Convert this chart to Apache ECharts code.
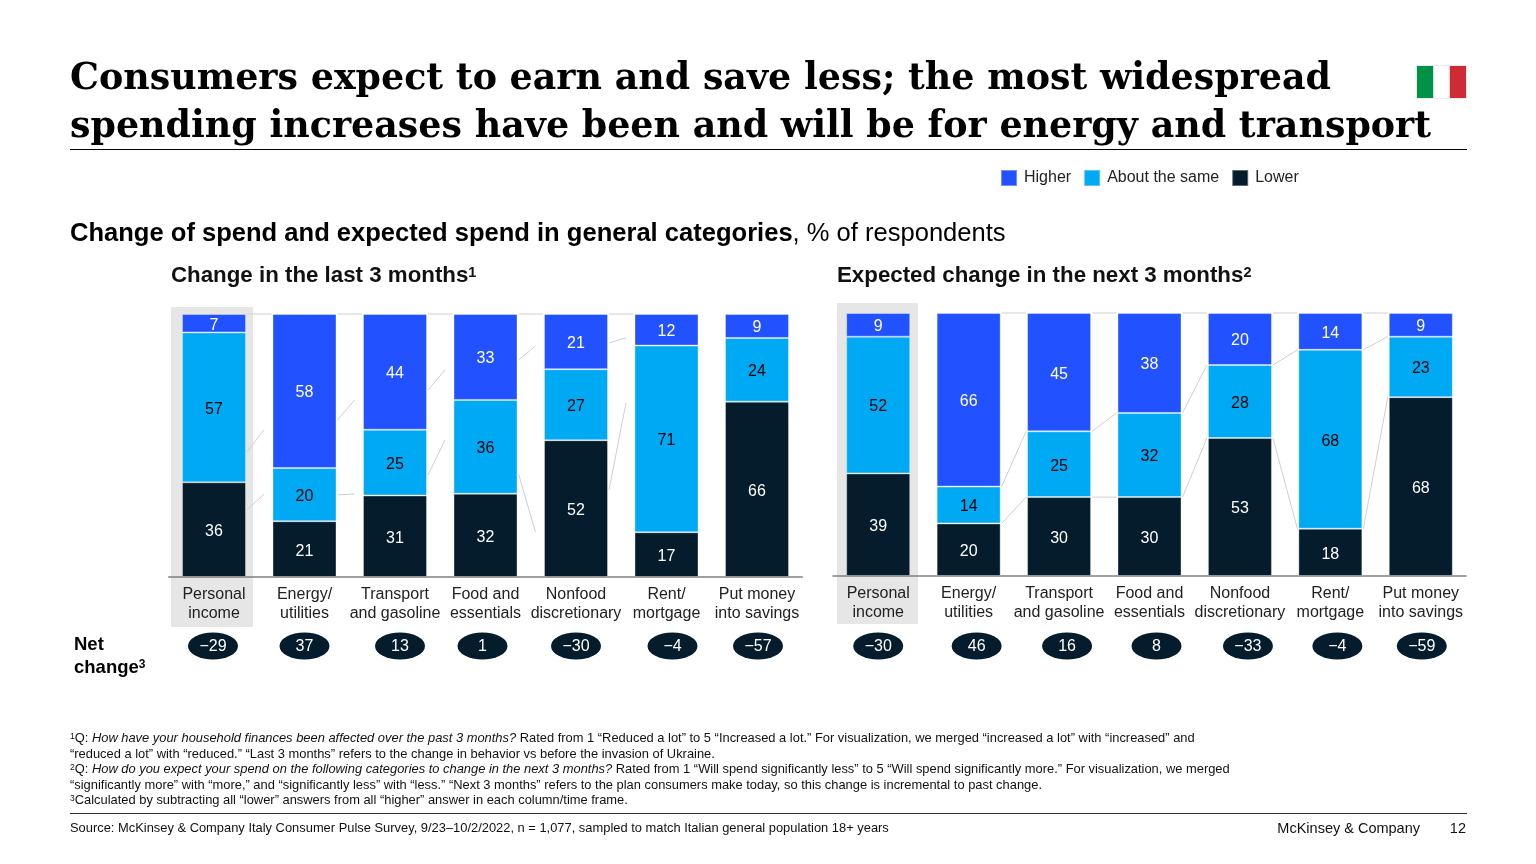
<!DOCTYPE html>
<html>
<head>
<meta charset="utf-8">
<title>Italy consumer pulse</title>
<script src="https://cdn.jsdelivr.net/npm/echarts@6/dist/echarts.min.js"></script>
<style>
  html, body { margin: 0; padding: 0; background: #fff; }
  #chart { width: 1536px; height: 864px; }
</style>
</head>
<body>
<div id="chart"></div>
<script>
const categories = ["Personal\nincome", "Energy/\nutilities", "Transport\nand gasoline", "Food and\nessentials", "Nonfood\ndiscretionary", "Rent/\nmortgage", "Put money\ninto savings"];

const lastHigher = [7, 58, 44, 33, 21, 12, 9];
const lastSame = [57, 20, 25, 36, 27, 71, 24];
const lastLower = [36, 21, 31, 32, 52, 17, 66];
const lastNet = [-29, 37, 13, 1, -30, -4, -57];

const nextHigher = [9, 66, 45, 38, 20, 14, 9];
const nextSame = [52, 14, 25, 32, 28, 68, 23];
const nextLower = [39, 20, 30, 30, 53, 18, 68];
const nextNet = [-30, 46, 16, 8, -33, -4, -59];

// the faint connector stubs of the left panel, [gap, from %, to %]
const lastConnectors = [
  [0, 100, 100], [0, 47.5, 56], [0, 25.5, 31.5],
  [1, 100, 100], [1, 59.7, 67.3], [1, 31.2, 31.6],
  [2, 100, 100], [2, 71.1, 78.7], [2, 38.8, 52.1],
  [3, 100, 100], [3, 82.5, 87.8], [3, 39.2, 17.1],
  [4, 100, 100], [4, 89, 90.9], [4, 33.1, 66.2]
];

const footnotes = [
  "{s|1}Q: {i|How have your household finances been affected over the past 3 months?} Rated from 1 “Reduced a lot” to 5 “Increased a lot.” For visualization, we merged “increased a lot” with “increased” and",
  "“reduced a lot” with “reduced.” “Last 3 months” refers to the change in behavior vs before the invasion of Ukraine.",
  "{s|2}Q: {i|How do you expect your spend on the following categories to change in the next 3 months?} Rated from 1 “Will spend significantly less” to 5 “Will spend significantly more.” For visualization, we merged",
  "“significantly more” with “more,” and “significantly less” with “less.” “Next 3 months” refers to the plan consumers make today, so this change is incremental to past change.",
  "{s|3}Calculated by subtracting all “lower” answers from all “higher” answer in each column/time frame."
];

const BLUE = "#2251FF";
const CYAN = "#00A9F4";
const NAVY = "#051C2C";
const SANS = "Liberation Sans";
const BAR_W = 64;

// the bars all reach the top even when rounding sums to 99 or 101
function share(values, a, b, c) {
  return values.map((v, i) => (v / (a[i] + b[i] + c[i])) * 100);
}

function barSeries(name, values, color, labelColor, idx, a, b, c) {
  let shares = share(values, a, b, c);
  return {
    name: name,
    type: "bar",
    stack: "s" + idx,
    xAxisIndex: idx,
    yAxisIndex: idx,
    barWidth: BAR_W,
    clip: false,
    itemStyle: { color: color, borderColor: "rgba(255,255,255,0.35)", borderWidth: 1 },
    label: {
      show: true,
      position: "inside",
      offset: [0, 2],
      fontFamily: SANS,
      fontSize: 16,
      color: labelColor,
      formatter: (p) => values[p.dataIndex]
    },
    data: shares
  };
}

function connectorSeries(idx, rows, span) {
  return {
    type: "custom",
    xAxisIndex: idx,
    yAxisIndex: idx,
    silent: true,
    z: 1,
    encode: { x: 0, y: 1 },
    renderItem: function (params, api) {
      let gap = api.value(0);
      let a = api.coord([gap, api.value(1)]);
      let b = api.coord([gap, api.value(2)]);
      let next = api.coord([gap + 1, api.value(2)]);
      let x1 = a[0] + BAR_W / 2 + 1;
      let full = next[0] - BAR_W / 2 - 1;
      let x2 = api.value(1) === 100 ? full : Math.min(x1 + span, full);
      return {
        type: "line",
        shape: { x1: x1, y1: a[1], x2: x2, y2: b[1] },
        style: { stroke: "#cfcfcf", lineWidth: 1 }
      };
    },
    data: rows
  };
}

// right panel connectors run boundary to boundary, so they follow the data
function boundaryConnectors(hi, same, lo, gaps) {
  let rows = [];
  gaps.forEach((g) => {
    let low = share(lo, hi, same, lo);
    let mid = share(same, hi, same, lo);
    rows.push([g, 100, 100]);
    rows.push([g, low[g] + mid[g], low[g + 1] + mid[g + 1]]);
    rows.push([g, low[g], low[g + 1]]);
  });
  return rows;
}

function netSeries(idx, values, nudge) {
  return {
    type: "scatter",
    xAxisIndex: idx,
    yAxisIndex: idx,
    symbol: "circle",
    symbolSize: [50, 27],
    itemStyle: { color: NAVY, opacity: 1 },
    label: {
      show: true,
      position: "inside",
      offset: [0, 1],
      fontFamily: SANS,
      fontSize: 16,
      color: "#fff",
      formatter: (p) => String(values[p.dataIndex]).replace("-", "−")
    },
    data: values.map((v, i) => ({
      value: [i, 0],
      symbolOffset: [nudge[i], 0]
    }))
  };
}

function text(x, y, str, size, extra, scaleX) {
  return {
    type: "text",
    x: x,
    y: y,
    z: 5,
    silent: true,
    scaleX: scaleX || 1,
    style: Object.assign(
      { text: str, fontFamily: SANS, fontSize: size, fill: "#111", verticalAlign: "middle", align: "left" },
      extra || {}
    )
  };
}

function box(x, y, w, h, fill, z) {
  return { type: "rect", z: z, silent: true, shape: { x: x, y: y, width: w, height: h }, style: { fill: fill } };
}

function supStyle(size, weight, fill) {
  return { fontFamily: SANS, fontSize: size, fontWeight: weight, fill: fill, verticalAlign: "top" };
}

const titleStyle = { fontFamily: "DejaVu Serif", fontWeight: "bold", fill: "#000" };

const graphics = [
  box(171, 307, 82, 320, "#E6E6E6", -1),
  box(837, 303, 81, 321, "#E6E6E6", -1),
  text(70, 79, "Consumers expect to earn and save less; the most widespread", 38, titleStyle, 0.958),
  text(70, 127, "spending increases have been and will be for energy and transport", 38, titleStyle, 0.958),
  box(70, 149, 1397, 1, "#000", 1),
  box(1416.5, 65.5, 50, 33, "#d5d5d5", 1),
  box(1417, 66, 16.4, 32, "#009246", 2),
  box(1433.4, 66, 16.4, 32, "#ffffff", 2),
  box(1449.8, 66, 16.2, 32, "#CE2B37", 2),
  text(70, 234, "{b|Change of spend and expected spend in general categories}, % of respondents", 25.55, {
    fill: "#000",
    rich: { b: { fontFamily: SANS, fontSize: 25.55, fontWeight: "bold", fill: "#000" } }
  }),
  text(171, 276, "{t|Change in the last 3 months}{s|1}", 22.3, {
    rich: { t: { fontFamily: SANS, fontSize: 22.3, fontWeight: "bold", fill: "#111" }, s: supStyle(14.5, "bold", "#111") }
  }),
  text(837, 276, "{t|Expected change in the next 3 months}{s|2}", 22.3, {
    rich: { t: { fontFamily: SANS, fontSize: 22.3, fontWeight: "bold", fill: "#111" }, s: supStyle(14.5, "bold", "#111") }
  }),
  text(74, 645, "Net", 18.5, { fontWeight: "bold", fill: "#000" }),
  text(74, 668, "{t|change}{s|3}", 18.5, {
    rich: { t: { fontFamily: SANS, fontSize: 18.5, fontWeight: "bold", fill: "#000" }, s: supStyle(12, "bold", "#000") }
  }),
  box(70, 813, 1397, 1, "#333", 1),
  text(70, 828, "Source: McKinsey & Company Italy Consumer Pulse Survey, 9/23–10/2/2022, n = 1,077, sampled to match Italian general population 18+ years", 12.9, { fill: "#111" }),
  text(1420, 829, "McKinsey & Company", 14.5, { align: "right", fill: "#111" }),
  text(1466, 829, "12", 14.5, { align: "right", fill: "#111" })
];

const footY = [738.5, 754.5, 769.5, 785.5, 800.5];
footnotes.forEach((line, i) => {
  graphics.push(text(70, footY[i], line, 12.9, {
    fill: "#111",
    rich: {
      i: { fontFamily: SANS, fontSize: 12.9, fontStyle: "italic", fill: "#111" },
      s: supStyle(8.5, "normal", "#111")
    }
  }));
});

function catAxis(gridIndex, showLabels) {
  return {
    type: "category",
    gridIndex: gridIndex,
    data: categories,
    axisTick: { show: false },
    axisLine: { show: showLabels, lineStyle: { color: "#808080", width: 1.5 } },
    axisLabel: {
      show: showLabels,
      interval: 0,
      margin: 8,
      fontFamily: SANS,
      fontSize: 16,
      lineHeight: 19,
      color: "#222"
    }
  };
}

function valAxis(gridIndex, min, max) {
  return { type: "value", gridIndex: gridIndex, min: min, max: max, show: false, splitLine: { show: false } };
}

const option = {
  animation: false,
  textStyle: { fontFamily: SANS },
  legend: {
    left: 1000,
    top: 169,
    padding: 0,
    icon: "rect",
    itemWidth: 16,
    itemHeight: 16,
    itemGap: 12,
    textStyle: { fontFamily: SANS, fontSize: 16, color: "#222", padding: [0, 0, 0, 2] },
    data: ["Higher", "About the same", "Lower"]
  },
  grid: [
    { left: 168.75, top: 314, width: 633.5, height: 263 },
    { left: 833, top: 313, width: 633, height: 263 },
    { left: 168.75, top: 631, width: 633.5, height: 30 },
    { left: 833, top: 631, width: 633, height: 30 }
  ],
  xAxis: [catAxis(0, true), catAxis(1, true), catAxis(2, false), catAxis(3, false)],
  yAxis: [valAxis(0, 0, 100), valAxis(1, 0, 100), valAxis(2, -1, 1), valAxis(3, -1, 1)],
  graphic: graphics,
  series: [
    barSeries("Lower", lastLower, NAVY, "#fff", 0, lastHigher, lastSame, lastLower),
    barSeries("About the same", lastSame, CYAN, "#000", 0, lastHigher, lastSame, lastLower),
    barSeries("Higher", lastHigher, BLUE, "#fff", 0, lastHigher, lastSame, lastLower),
    barSeries("Lower", nextLower, NAVY, "#fff", 1, nextHigher, nextSame, nextLower),
    barSeries("About the same", nextSame, CYAN, "#000", 1, nextHigher, nextSame, nextLower),
    barSeries("Higher", nextHigher, BLUE, "#fff", 1, nextHigher, nextSame, nextLower),
    connectorSeries(0, lastConnectors, 17),
    connectorSeries(1, boundaryConnectors(nextHigher, nextSame, nextLower, [1, 2, 3, 4, 5]), 40),
    netSeries(2, lastNet, [-1, 0, 5, -3, 0, 6, 1]),
    netSeries(3, nextNet, [0, 8, 8, 7, 8, 7, 1])
  ]
};

let myChart = echarts.init(document.getElementById("chart"), null, { renderer: "canvas" });
myChart.setOption(option);
</script>
</body>
</html>
